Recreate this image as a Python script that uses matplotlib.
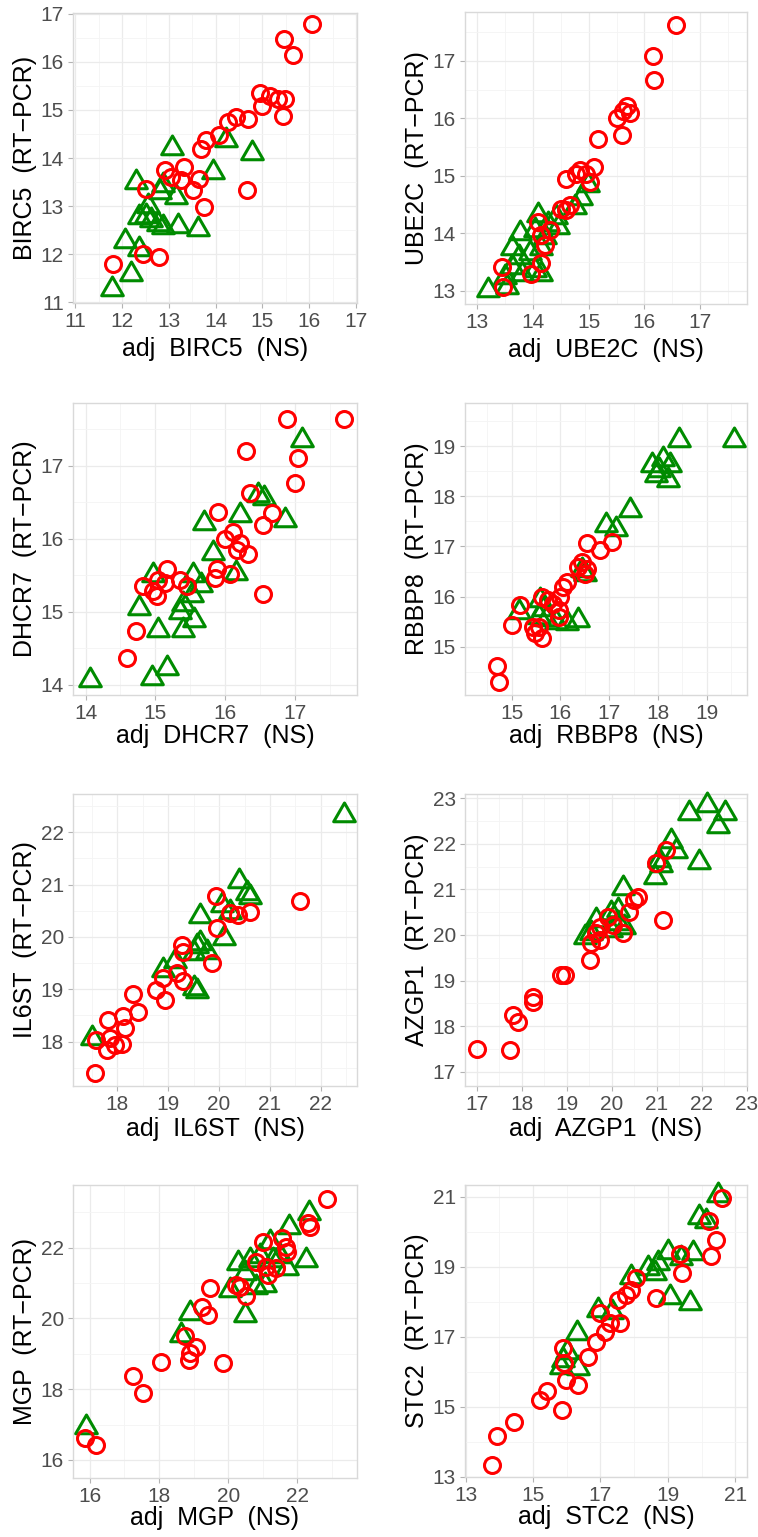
import matplotlib
matplotlib.use("Agg")
import matplotlib.pyplot as plt
from matplotlib.path import Path
import numpy as np

plt.rcParams['font.family'] = ['Liberation Sans', 'DejaVu Sans']

# ---------------- data ----------------
genes = ["BIRC5", "UBE2C", "DHCR7", "RBBP8", "IL6ST", "AZGP1", "MGP", "STC2"]

# BIRC5
birc5_red_x = [16.05, 15.46, 15.66, 14.94, 15.17, 14.98, 15.34, 15.48, 15.43, 14.69, 14.43, 14.26, 14.07, 13.80, 13.69,
               13.32, 12.91, 13.05, 13.26, 13.64, 13.51, 14.66, 13.76, 12.51, 11.80, 12.44, 12.79]
birc5_red_y = [16.79, 16.48, 16.14, 15.36, 15.29, 15.09, 15.22, 15.22, 14.87, 14.81, 14.85, 14.74, 14.48, 14.38, 14.18,
               13.82, 13.75, 13.61, 13.54, 13.57, 13.34, 13.33, 12.98, 13.36, 11.79, 12.01, 11.94]
birc5_grn_x = [13.06, 14.23, 14.78, 13.94, 12.29, 12.87, 13.16, 12.80, 12.55, 12.37, 12.62, 12.76, 12.50, 12.87, 13.19,
               13.62, 12.07, 12.37, 12.18, 11.79]
birc5_grn_y = [14.20, 14.38, 14.10, 13.71, 13.50, 13.43, 13.19, 13.29, 13.01, 12.77, 12.70, 12.63, 12.80, 12.56, 12.59,
               12.52, 12.28, 12.10, 11.58, 11.27]

# UBE2C
ube2c_red_x = [16.56, 16.15, 16.17, 15.68, 15.62, 15.74, 15.50, 15.59, 15.17, 15.10, 14.84, 14.78, 14.96, 14.60, 15.02,
               14.66, 14.60, 14.51, 14.09, 14.15, 14.21, 14.15, 13.97, 13.44, 13.47, 14.30]
ube2c_red_y = [17.63, 17.08, 16.67, 16.22, 16.12, 16.09, 16.00, 15.71, 15.64, 15.16, 15.10, 15.04, 15.04, 14.94, 14.90,
               14.49, 14.40, 14.43, 14.20, 13.97, 13.80, 13.48, 13.30, 13.42, 13.07, 14.06]
ube2c_grn_x = [14.99, 14.87, 14.75, 14.42, 14.09, 14.27, 14.45, 14.03, 13.77, 14.21, 13.62, 13.74, 13.62, 13.80, 14.03,
               14.15, 13.50, 13.53, 13.20, 14.15, 13.94]
ube2c_grn_y = [14.84, 14.61, 14.46, 14.29, 14.32, 14.17, 14.11, 14.06, 14.00, 13.94, 13.74, 13.59, 13.42, 13.30, 13.36,
               13.30, 13.24, 13.07, 13.01, 13.74, 13.65]

# DHCR7
dhcr7_red_x = [16.89, 17.70, 16.30, 17.04, 17.00, 16.35, 16.67, 15.90, 16.55, 16.12, 16.00, 16.21, 16.17, 16.33, 16.07,
               15.88, 15.85, 16.55, 15.16, 15.04, 15.14, 15.35, 15.45, 14.83, 14.96, 15.02, 14.73, 14.60]
dhcr7_red_y = [17.64, 17.64, 17.20, 17.11, 16.77, 16.63, 16.35, 16.37, 16.19, 16.09, 16.00, 15.94, 15.85, 15.79, 15.52,
               15.58, 15.46, 15.25, 15.58, 15.44, 15.39, 15.43, 15.35, 15.35, 15.29, 15.21, 14.73, 14.37]
dhcr7_grn_x = [17.10, 16.47, 16.56, 16.21, 16.86, 15.70, 15.83, 16.16, 14.97, 15.54, 15.66, 15.52, 15.40, 15.35, 15.56,
               14.77, 15.04, 15.40, 14.95, 15.16, 14.07]
dhcr7_grn_y = [17.36, 16.60, 16.56, 16.33, 16.26, 16.21, 15.80, 15.53, 15.51, 15.51, 15.37, 15.23, 15.10, 15.00, 14.89,
               15.05, 14.75, 14.75, 14.09, 14.23, 14.07]

# RBBP8
rbbp8_red_x = [14.69, 14.73, 15.00, 15.16, 15.44, 15.48, 15.55, 15.62, 15.62, 15.75, 15.85, 15.96, 15.96, 15.99, 16.06,
               16.13, 16.37, 16.44, 16.54, 16.54, 16.81, 17.05, 16.50]
rbbp8_red_y = [14.61, 14.29, 15.43, 15.83, 15.40, 15.27, 15.40, 15.17, 16.00, 15.93, 15.86, 15.73, 15.60, 16.00, 16.20,
               16.30, 16.60, 16.69, 16.56, 17.06, 16.93, 17.09, 16.46]
rbbp8_grn_x = [19.57, 18.44, 17.87, 18.11, 18.25, 17.97, 18.21, 18.03, 17.43, 16.94, 17.15, 16.44, 16.50, 16.37, 16.13,
               15.14, 15.58, 15.70, 15.90, 15.55, 15.65]
rbbp8_grn_y = [19.12, 19.12, 18.62, 18.75, 18.62, 18.42, 18.32, 18.52, 17.72, 17.43, 17.34, 16.54, 16.45, 15.53, 15.47,
               15.70, 15.93, 15.55, 15.50, 15.60, 15.75]

# IL6ST
il6st_red_x = [21.59, 19.94, 20.61, 20.38, 20.22, 19.95, 19.27, 19.30, 19.86, 19.29, 19.17, 18.90, 18.77, 18.94, 18.31,
               18.41, 18.12, 18.15, 17.82, 17.86, 17.79, 17.95, 18.10, 17.58, 17.56]
il6st_red_y = [20.69, 20.78, 20.48, 20.42, 20.46, 20.17, 19.85, 19.72, 19.50, 19.15, 19.31, 19.21, 18.99, 18.80, 18.91,
               18.56, 18.48, 18.25, 18.41, 18.06, 17.84, 17.94, 17.96, 18.03, 17.39]
il6st_grn_x = [22.46, 20.40, 20.54, 20.61, 20.05, 19.63, 20.10, 19.63, 19.56, 19.50, 19.76, 19.13, 18.90, 19.50, 19.56,
               17.50, 20.22]
il6st_grn_y = [22.33, 21.06, 20.83, 20.77, 20.61, 20.39, 19.97, 19.88, 19.82, 19.69, 19.72, 19.53, 19.37, 19.02, 18.96,
               18.06, 20.48]

# AZGP1
azgp1_red_x = [21.20, 20.98, 20.58, 20.50, 20.39, 21.13, 19.91, 19.73, 19.65, 19.73, 19.54, 20.24, 20.02, 19.51, 18.88,
               18.95, 18.24, 18.25, 17.81, 17.91, 17.00, 17.75]
azgp1_red_y = [21.87, 21.57, 20.84, 20.77, 20.51, 20.33, 20.40, 20.18, 20.04, 19.89, 19.82, 20.04, 20.22, 19.45, 19.12,
               19.12, 18.65, 18.54, 18.24, 18.10, 17.51, 17.48]
azgp1_grn_x = [22.11, 21.72, 22.52, 22.35, 21.31, 21.42, 21.05, 21.09, 21.94, 20.95, 20.24, 20.13, 19.99, 20.28, 19.65,
               19.54, 19.40, 20.13, 19.99]
azgp1_grn_y = [22.85, 22.67, 22.67, 22.38, 22.05, 21.83, 21.65, 21.54, 21.61, 21.28, 21.02, 20.55, 20.48, 20.18, 20.33,
               20.04, 19.96, 20.26, 20.11]

# MGP
mgp_red_x = [22.85, 22.32, 22.37, 21.55, 21.67, 21.69, 21.02, 20.82, 21.11, 21.40, 21.16, 20.24, 20.34, 20.53, 19.47,
             19.23, 19.42, 18.75, 19.07, 18.89, 18.87, 18.05, 19.86, 17.25, 17.54, 15.86, 16.19]
mgp_red_y = [23.37, 22.69, 22.59, 22.26, 22.01, 21.89, 22.17, 21.60, 21.46, 21.42, 21.23, 20.94, 20.90, 20.62, 20.85,
             20.33, 20.10, 19.49, 19.20, 19.01, 18.83, 18.78, 18.75, 18.37, 17.88, 16.61, 16.42]
mgp_grn_x = [22.35, 21.77, 22.25, 21.21, 21.50, 21.31, 20.92, 20.63, 20.29, 20.49, 21.69, 21.06, 20.82, 20.05, 20.49,
             18.89, 18.65, 15.88]
mgp_grn_y = [22.97, 22.59, 21.65, 22.17, 21.75, 21.65, 21.75, 21.65, 21.56, 21.27, 21.42, 20.94, 20.90, 20.80, 20.10,
             20.14, 19.53, 16.94]

# STC2
stc2_red_x = [20.61, 20.22, 20.44, 20.27, 19.35, 19.43, 18.66, 18.07, 17.92, 17.77, 17.52, 17.57, 17.28, 17.13, 16.98,
              16.88, 16.63, 15.89, 15.92, 15.99, 16.34, 15.87, 15.40, 15.20, 14.44, 13.92, 13.77]
stc2_red_y = [20.95, 20.29, 19.76, 19.30, 19.35, 18.81, 18.10, 18.67, 18.33, 18.19, 18.05, 17.38, 17.38, 17.14, 17.67,
              16.86, 16.43, 16.67, 16.26, 15.76, 15.62, 14.90, 15.45, 15.19, 14.57, 14.16, 13.33]
stc2_grn_x = [20.49, 19.94, 20.14, 19.00, 19.75, 19.40, 18.71, 18.41, 18.61, 17.92, 19.05, 19.65, 16.93, 17.33, 16.29,
              16.00, 15.84, 16.34, 15.89]
stc2_grn_y = [21.05, 20.43, 20.29, 19.43, 19.38, 19.24, 19.10, 18.95, 18.81, 18.71, 18.14, 17.95, 17.76, 17.71, 17.10,
              16.57, 16.14, 16.10, 16.33]

red_x = [birc5_red_x, ube2c_red_x, dhcr7_red_x, rbbp8_red_x, il6st_red_x, azgp1_red_x, mgp_red_x, stc2_red_x]
red_y = [birc5_red_y, ube2c_red_y, dhcr7_red_y, rbbp8_red_y, il6st_red_y, azgp1_red_y, mgp_red_y, stc2_red_y]
grn_x = [birc5_grn_x, ube2c_grn_x, dhcr7_grn_x, rbbp8_grn_x, il6st_grn_x, azgp1_grn_x, mgp_grn_x, stc2_grn_x]
grn_y = [birc5_grn_y, ube2c_grn_y, dhcr7_grn_y, rbbp8_grn_y, il6st_grn_y, azgp1_grn_y, mgp_grn_y, stc2_grn_y]

# axis ticks
x_ticks = [list(range(11, 18)), list(range(13, 18)), list(range(14, 18)), list(range(15, 20)),
           list(range(18, 23)), list(range(17, 24)), [16, 18, 20, 22], [13, 15, 17, 19, 21]]
y_ticks = [list(range(11, 18)), list(range(13, 18)), list(range(14, 18)), list(range(15, 20)),
           list(range(18, 23)), list(range(17, 24)), [16, 18, 20, 22], [13, 15, 17, 19, 21]]
x_lims = [(10.95, 17.02), (12.78, 17.84), (13.82, 17.89), (14.04, 19.83),
          (17.13, 22.71), (16.74, 23.0), (15.51, 23.73), (12.98, 21.35)]
y_lims = [(10.98, 17.02), (12.77, 17.85), (13.86, 17.86), (14.04, 19.86),
          (17.15, 22.73), (16.69, 23.09), (15.49, 23.77), (12.99, 21.33)]

# ---------------- figure ----------------
W, H = 758, 1537
fig = plt.figure(figsize=(W / 100, H / 100), dpi=100)

boxes = [(73, 13, 357, 303), (465, 12, 747, 304),
         (73, 403, 357, 695), (465, 403, 747, 695),
         (73, 794, 357, 1086), (465, 794, 747, 1086),
         (73, 1185, 357, 1478), (465, 1185, 747, 1477)]
xlab_off = [46, 46, 41, 41, 43, 43, 40, 40]

# equilateral triangle marker centred on centroid (like R pch 2)
tri = Path([(0, 1), (-0.866, -0.5), (0.866, -0.5), (0, 1)],
           [Path.MOVETO, Path.LINETO, Path.LINETO, Path.CLOSEPOLY])

RED = '#FF0000'
GREEN = '#008B00'

for i, g in enumerate(genes):
    l, t, r, b = boxes[i]
    ax = fig.add_axes([l / W, 1 - b / H, (r - l) / W, (b - t) / H])
    ax.set_xticks(x_ticks[i])
    ax.set_yticks(y_ticks[i])
    sx = x_ticks[i][1] - x_ticks[i][0]
    sy = y_ticks[i][1] - y_ticks[i][0]
    ax.set_xticks([v + sx / 2 for v in [x_ticks[i][0] - sx] + x_ticks[i]], minor=True)
    ax.set_yticks([v + sy / 2 for v in [y_ticks[i][0] - sy] + y_ticks[i]], minor=True)
    ax.grid(True, which='major', color='#EBEBEB', lw=0.9, zorder=0)
    ax.grid(True, which='minor', color='#F4F4F4', lw=0.6, zorder=0)
    ax.set_axisbelow(True)
    for sp in ax.spines.values():
        sp.set_color('#D9D9D9')
        sp.set_linewidth(1.0)
    ax.tick_params(which='major', length=3.5, width=0.8, color='#B3B3B3',
                   labelsize=15, labelcolor='#4D4D4D')
    ax.tick_params(axis='x', pad=3.0)
    ax.tick_params(axis='y', pad=3.0)
    ax.tick_params(which='minor', length=0)

    ax.plot(grn_x[i], grn_y[i], ls='none', marker=tri, ms=18, mfc='none',
            mec=GREEN, mew=2.2, zorder=3, clip_on=False)
    ax.plot(red_x[i], red_y[i], ls='none', marker='o', ms=11.5, mfc='none',
            mec=RED, mew=2.2, zorder=4, clip_on=False)

    ax.set_xlim(*x_lims[i])
    ax.set_ylim(*y_lims[i])

    ax.set_xlabel(f"adj  {g}  (NS)", fontsize=18, color='black', va='center')
    ax.set_ylabel(f"{g}  (RT\u2212PCR)", fontsize=18, color='black', va='center')
    ax.xaxis.set_label_coords(0.5, -xlab_off[i] / (b - t))
    ax.yaxis.set_label_coords(-48 / (r - l), 0.5)

fig.savefig("out.png", dpi=100, facecolor='white')
